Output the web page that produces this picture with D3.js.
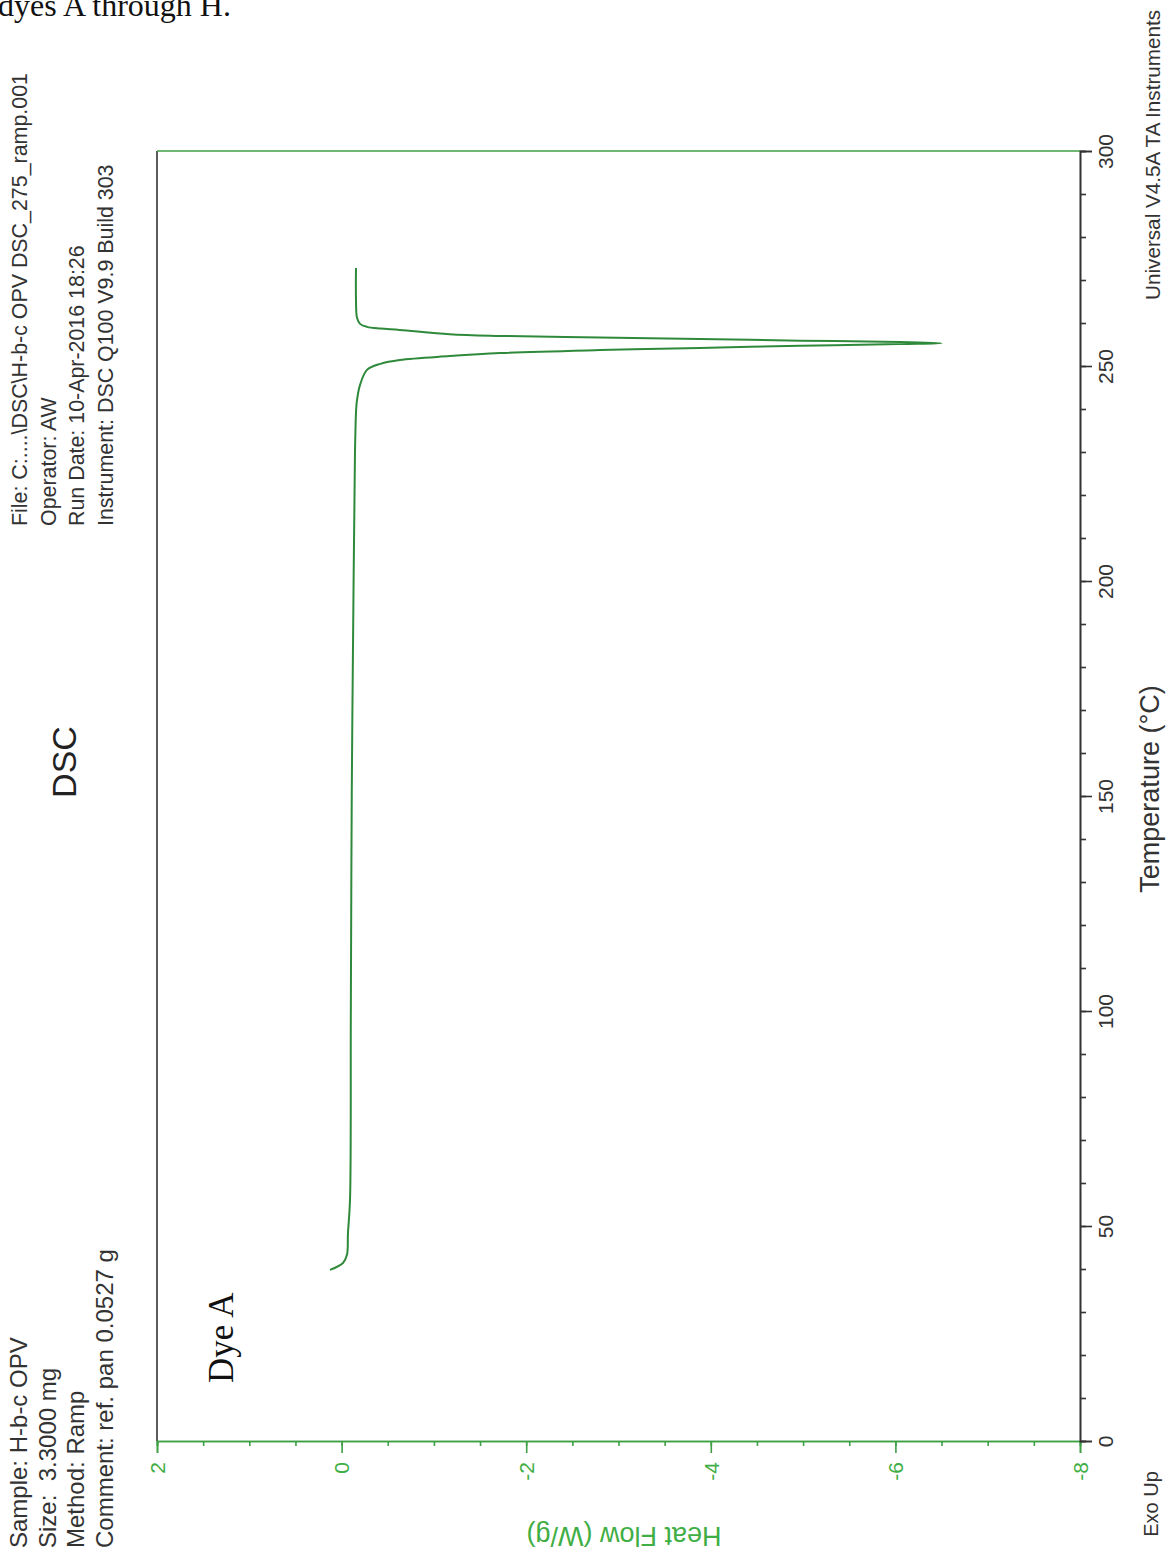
<!DOCTYPE html>
<html>
<head>
<meta charset="utf-8">
<script src="https://cdn.jsdelivr.net/npm/d3@7"></script>
<style>
  html, body { margin: 0; padding: 0; background: #fff; }
  svg { display: block; }
  text { white-space: pre; }
</style>
</head>
<body>
<svg id="chart" width="1173" height="1554"></svg>
<script>
// ---- data ----
const temperature = [39.8, 41.4, 43.3, 48.4, 56, 100, 150, 200, 230, 240, 242.1, 245.6, 249.1, 250.5, 251.4, 252.3, 253.0, 253.7, 254.2, 254.7, 255.1, 255.3, 255.6, 255.9, 256.3, 256.6, 257.0, 257.4, 258.4, 258.7, 259.1, 259.8, 261.2, 265.3, 272.8];
const heatFlow = [0.126, -0.015, -0.058, -0.069, -0.091, -0.10, -0.11, -0.13, -0.145, -0.158, -0.167, -0.20, -0.275, -0.42, -0.63, -1.17, -1.72, -2.80, -3.88, -4.97, -6.05, -6.50, -6.05, -4.97, -3.88, -2.80, -1.72, -1.17, -0.63, -0.42, -0.275, -0.20, -0.167, -0.156, -0.156];
const heatFlowTicks = [2, 0, -2, -4, -6, -8];
const heatFlowMinor = d3.range(2, -8.01, -0.5);
const tempTicks = [0, 50, 100, 150, 200, 250, 300];
const tempMinor = d3.range(0, 300.1, 10);
const headerLeft = ["Sample: H-b-c OPV", "Size:  3.3000 mg", "Method: Ramp", "Comment: ref. pan 0.0527 g"];
const headerRight = ["File: C:....\\DSC\\H-b-c OPV DSC_275_ramp.001", "Operator: AW", "Run Date: 10-Apr-2016 18:26", "Instrument: DSC Q100 V9.9 Build 303"];

const svg = d3.select("#chart");
const sans = "Liberation Sans, Arial, sans-serif";
const serif = "Liberation Serif, Times New Roman, serif";
const green = "#3f9f45", greenText = "#3fae45", dark = "#333", curveCol = "#2e8a3a";

const x = d3.scaleLinear().domain([2, -8]).range([157, 1080]);   // heat flow (horizontal)
const y = d3.scaleLinear().domain([0, 300]).range([1441, 151]);  // temperature (vertical)

// caption fragment at top
svg.append("text").attr("x", -2).attr("y", 16)
  .attr("font-family", serif).attr("font-size", 32).attr("fill", "#111")
  .text("dyes A through H.");

// frame: left (dark) and top (green)
svg.append("line").attr("x1", x(2)).attr("x2", x(2)).attr("y1", y(0)).attr("y2", y(300))
  .attr("stroke", dark).attr("stroke-width", 1.6);
svg.append("line").attr("x1", x(2)).attr("x2", x(-8)).attr("y1", y(300)).attr("y2", y(300))
  .attr("stroke", green).attr("stroke-width", 1.6);

// heat flow axis (bottom)
const gHFmin = svg.append("g").attr("transform", `translate(0,${y(0)})`)
  .call(d3.axisBottom(x).tickValues(heatFlowMinor).tickSize(5).tickFormat(""));
const gHF = svg.append("g").attr("transform", `translate(0,${y(0)})`)
  .call(d3.axisBottom(x).tickValues(heatFlowTicks).tickSize(12).tickFormat(d3.format("d")));
[gHFmin, gHF].forEach(g => {
  g.select(".domain").attr("stroke", green).attr("stroke-width", 1.6);
  g.selectAll(".tick line").attr("stroke", green).attr("stroke-width", 1.6);
});
gHF.selectAll(".tick text")
  .attr("transform", "rotate(-90)")
  .attr("x", -21).attr("y", 0).attr("dy", "0.35em")
  .attr("text-anchor", "end")
  .attr("font-family", sans).attr("font-size", 21).attr("fill", greenText)
  .text(d => d < 0 ? "-" + Math.abs(d) : String(d));

// temperature axis (right)
const gTmin = svg.append("g").attr("transform", `translate(${x(-8)},0)`)
  .call(d3.axisRight(y).tickValues(tempMinor).tickSize(6).tickFormat(""));
const gT = svg.append("g").attr("transform", `translate(${x(-8)},0)`)
  .call(d3.axisRight(y).tickValues(tempTicks).tickSize(12).tickFormat(d3.format("d")));
[gTmin, gT].forEach(g => {
  g.select(".domain").attr("stroke", dark).attr("stroke-width", 1.6);
  g.selectAll(".tick line").attr("stroke", dark).attr("stroke-width", 1.6);
});
gT.selectAll(".tick text")
  .attr("transform", "translate(26,0) rotate(-90)")
  .attr("x", 0).attr("y", 0).attr("dy", "0.35em")
  .attr("text-anchor", "middle")
  .attr("font-family", sans).attr("font-size", 21).attr("fill", dark);

// curve
const pts = temperature.map((t, i) => [heatFlow[i], t]);
svg.append("path").datum(pts)
  .attr("fill", "none").attr("stroke", curveCol).attr("stroke-width", 2)
  .attr("stroke-linejoin", "round")
  .attr("d", d3.line().x(d => x(d[0])).y(d => y(d[1])).curve(d3.curveCatmullRom.alpha(0.5)));

// rotated text helper
function vtext(px, py, str, size, fill, anchor, family, rot) {
  return svg.append("text")
    .attr("transform", `translate(${px},${py}) rotate(${rot || -90})`)
    .attr("text-anchor", anchor || "start")
    .attr("font-family", family || sans).attr("font-size", size).attr("fill", fill)
    .attr("xml:space", "preserve")
    .text(str);
}

// headers
const lineX = [27, 56, 84, 113];
headerLeft.forEach((s, i) => vtext(lineX[i], 1548, s, 24, dark));
headerRight.forEach((s, i) => vtext(lineX[i], 526, s, 21.4, dark));
vtext(76, 762, "DSC", 34, "#222", "middle");

// annotation
vtext(233, 1383, "Dye A", 35, "#111", "start", serif);

// axis titles
vtext(1159, 789, "Temperature (°C)", 27, dark, "middle");
vtext(624, 1536, "Heat Flow (W/g)", 27, greenText, "middle", sans, 180)
  .attr("dy", "0.35em");
vtext(1158, 1504, "Exo Up", 20, dark, "middle");
vtext(1160, 300, "Universal V4.5A TA Instruments", 20.7, dark, "start");
</script>
</body>
</html>
